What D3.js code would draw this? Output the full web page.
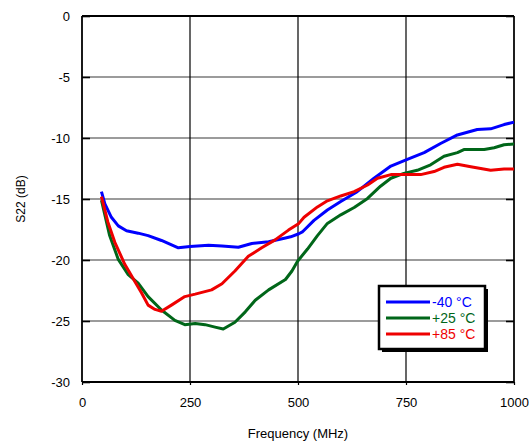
<!DOCTYPE html>
<html lang="en">
<head>
<meta charset="UTF-8">
<title>S22 vs Frequency</title>
<script src="https://d3js.org/d3.v7.min.js"></script>
<style>
    body { margin: 0; background: #fff; }
    svg { display: block; font-family: "Liberation Sans", Arial, sans-serif; }
    .tick text { font-size: 13px; fill: #000; }
</style>
</head>
<body>
<div id="chart"></div>
<script>
// values
const xTicks = [0, 250, 500, 750, 1000];
const yTicks = [0, -5, -10, -15, -20, -25, -30];

const freqBlue = [45, 53, 68, 84, 103, 130, 153, 184, 223, 250, 293, 324, 362, 393, 432, 471, 483, 502, 510, 537, 568, 599, 637, 676, 715, 753, 792, 830, 869, 915, 946, 977, 1000];
const s22Blue = [-14.4, -15.4, -16.5, -17.2, -17.6, -17.8, -18.0, -18.4, -19.0, -18.9, -18.8, -18.85, -18.95, -18.65, -18.5, -18.2, -18.1, -17.85, -17.7, -16.75, -15.9, -15.2, -14.4, -13.3, -12.3, -11.75, -11.2, -10.45, -9.75, -9.3, -9.25, -8.9, -8.7];

const freqGreen = [45, 64, 84, 107, 130, 153, 184, 215, 238, 262, 285, 308, 327, 354, 378, 401, 432, 471, 486, 499, 522, 545, 568, 599, 630, 661, 691, 715, 745, 776, 807, 838, 869, 884, 931, 954, 977, 1000];
const s22Green = [-15.1, -18.0, -19.95, -21.2, -21.9, -23.0, -24.1, -24.95, -25.3, -25.2, -25.3, -25.5, -25.65, -25.1, -24.25, -23.3, -22.45, -21.6, -20.9, -20.1, -19.1, -18.0, -17.0, -16.3, -15.7, -14.95, -13.95, -13.3, -12.9, -12.65, -12.2, -11.5, -11.2, -10.95, -10.95, -10.8, -10.55, -10.5];

const freqRed = [45, 60, 76, 99, 122, 138, 153, 169, 184, 207, 238, 262, 300, 324, 354, 385, 416, 447, 478, 502, 514, 545, 568, 599, 630, 661, 684, 715, 753, 784, 815, 838, 869, 900, 946, 977, 1000];
const s22Red = [-14.8, -16.9, -18.55, -20.35, -21.75, -22.7, -23.7, -24.05, -24.2, -23.7, -23.0, -22.8, -22.45, -21.95, -20.9, -19.7, -19.0, -18.35, -17.55, -17.0, -16.5, -15.65, -15.15, -14.75, -14.4, -13.85, -13.3, -13.0, -13.0, -13.0, -12.75, -12.4, -12.15, -12.35, -12.65, -12.55, -12.55];

const seriesNames = ["-40 °C", "+25 °C", "+85 °C"];
const seriesColors = ["#0000ff", "#006619", "#ee0000"];

const series = [
    { name: seriesNames[0], color: seriesColors[0], f: freqBlue, v: s22Blue },
    { name: seriesNames[1], color: seriesColors[1], f: freqGreen, v: s22Green },
    { name: seriesNames[2], color: seriesColors[2], f: freqRed, v: s22Red }
];

const width = 529, height = 443;
const margin = { top: 16, right: 15, bottom: 61, left: 82 };
const plotW = width - margin.left - margin.right;
const plotH = height - margin.top - margin.bottom;

const x = d3.scaleLinear().domain([0, 1000]).range([0, plotW]);
const y = d3.scaleLinear().domain([-30, 0]).range([plotH, 0]);

const svg = d3.select("#chart").append("svg")
    .attr("width", width)
    .attr("height", height);

const g = svg.append("g")
    .attr("transform", "translate(" + margin.left + "," + margin.top + ")");

// horizontal grid (gray)
g.append("g")
    .selectAll("line")
    .data(yTicks.filter(d => d !== 0 && d !== -30))
    .join("line")
    .attr("x1", 0).attr("x2", plotW)
    .attr("y1", d => y(d)).attr("y2", d => y(d))
    .attr("stroke", "#7a7a7a")
    .attr("stroke-width", 1.6);

// vertical grid (black)
g.append("g")
    .selectAll("line")
    .data(xTicks.filter(d => d !== 0))
    .join("line")
    .attr("x1", d => x(d)).attr("x2", d => x(d))
    .attr("y1", 0).attr("y2", plotH)
    .attr("stroke", "#000")
    .attr("stroke-width", 1.2);

// left axis with inner ticks, plain hyphen for minus
const yAxis = g.append("g")
    .call(d3.axisLeft(y).tickValues(yTicks).tickSize(-8).tickPadding(12).tickFormat(d => String(d)));
yAxis.select(".domain").remove();
yAxis.selectAll(".tick line").attr("stroke", "#000").attr("stroke-width", 1.6);

// right side inner ticks
const yAxisR = g.append("g")
    .attr("transform", "translate(" + plotW + ",0)")
    .call(d3.axisRight(y).tickValues(yTicks).tickSize(-8).tickFormat(""));
yAxisR.select(".domain").remove();
yAxisR.selectAll(".tick line").attr("stroke", "#000").attr("stroke-width", 1.6);

// bottom axis
const xAxis = g.append("g")
    .attr("transform", "translate(0," + plotH + ")")
    .call(d3.axisBottom(x).tickValues(xTicks).tickSize(3).tickPadding(13).tickFormat(d => String(d)));
xAxis.select(".domain").remove();
xAxis.selectAll(".tick line").attr("stroke", "#000").attr("stroke-width", 1.2);

// frame
g.append("line").attr("x1", 0).attr("x2", plotW).attr("y1", 0).attr("y2", 0)
    .attr("stroke", "#000").attr("stroke-width", 1.8);
g.append("line").attr("x1", 0).attr("x2", plotW).attr("y1", plotH).attr("y2", plotH)
    .attr("stroke", "#000").attr("stroke-width", 1.8);
g.append("line").attr("x1", 0).attr("x2", 0).attr("y1", 0).attr("y2", plotH)
    .attr("stroke", "#000").attr("stroke-width", 1.8);
g.append("line").attr("x1", plotW).attr("x2", plotW).attr("y1", 0).attr("y2", plotH)
    .attr("stroke", "#000").attr("stroke-width", 1.4);

// curves
const line = d3.line()
    .x(d => x(d[0]))
    .y(d => y(d[1]));

g.append("g")
    .selectAll("path")
    .data(series)
    .join("path")
    .attr("fill", "none")
    .attr("stroke", d => d.color)
    .attr("stroke-width", 3)
    .attr("stroke-linejoin", "round")
    .attr("d", d => line(d.f.map((f, i) => [f, d.v[i]])));

// axis titles
svg.append("text")
    .attr("x", margin.left + plotW / 2)
    .attr("y", 438)
    .attr("text-anchor", "middle")
    .attr("font-size", 13)
    .text("Frequency (MHz)");

svg.append("text")
    .attr("transform", "translate(25," + (margin.top + plotH / 2) + ") rotate(-90)")
    .attr("text-anchor", "middle")
    .attr("font-size", 12)
    .text("S22 (dB)");

// legend with shadow
const legend = svg.append("g").attr("transform", "translate(379,286)");
legend.append("rect")
    .attr("x", 3).attr("y", 3).attr("width", 106).attr("height", 63)
    .attr("fill", "#000");
legend.append("rect")
    .attr("x", 0).attr("y", 0).attr("width", 106).attr("height", 63)
    .attr("fill", "#fff").attr("stroke", "#000").attr("stroke-width", 2.5);

const rows = legend.selectAll(".row")
    .data(series)
    .join("g")
    .attr("class", "row")
    .attr("transform", (d, i) => "translate(0," + (16 + i * 16) + ")");
rows.append("line")
    .attr("x1", 7).attr("x2", 51)
    .attr("stroke", d => d.color)
    .attr("stroke-width", 3);
rows.append("text")
    .attr("x", 53)
    .attr("dy", "0.35em")
    .attr("font-size", 14)
    .attr("fill", d => d.color)
    .text(d => d.name);
</script>
</body>
</html>
